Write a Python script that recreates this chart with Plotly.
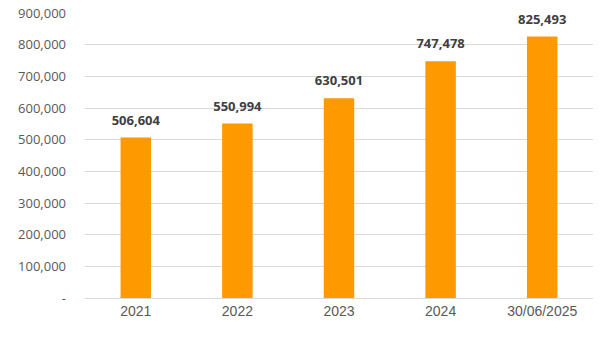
import plotly.graph_objects as go

categories = ["2021", "2022", "2023", "2024", "30/06/2025"]
values = [506604, 550994, 630501, 747478, 825493]
tick_vals = [0, 100000, 200000, 300000, 400000, 500000, 600000, 700000, 800000, 900000]
tick_text = ["-", "100,000", "200,000", "300,000", "400,000", "500,000",
             "600,000", "700,000", "800,000", "900,000"]

fig = go.Figure()
fig.add_trace(go.Bar(x=categories, y=values, marker_color="#FF9900",
                     marker_line_width=0, hoverinfo="skip"))
fig.add_trace(go.Scatter(x=categories, y=values, mode="markers+text",
                         marker=dict(size=14, opacity=0), hoverinfo="skip",
                         text=[f"{v:,}" for v in values], textposition="top center",
                         textfont=dict(family="Open Sans", size=13, color="#404040", weight="bold"),
                         cliponaxis=False))

fig.update_layout(
    width=601, height=355,
    margin=dict(l=85, r=8, t=13, b=57, autoexpand=False),
    plot_bgcolor="white", paper_bgcolor="white",
    bargap=0.7, showlegend=False,
    yaxis=dict(range=[0, 900000], tickvals=tick_vals, ticktext=tick_text,
               showgrid=True, gridcolor="#d9d9d9", gridwidth=1, zeroline=False,
               showline=False, ticks="", ticklabelstandoff=18, automargin=False,
               tickfont=dict(family="Open Sans", size=13, color="#595959")),
)
fig.update_xaxes(type="category", categoryorder="array", categoryarray=categories,
                 showgrid=False, showline=True, linecolor="#d9d9d9", linewidth=1,
                 ticks="", automargin=False,
                 tickfont=dict(family="Liberation Sans", size=14, color="#595959"))

fig.write_html("out.html", config={"displayModeBar": False},
               post_script="document.body.style.margin='0';")
